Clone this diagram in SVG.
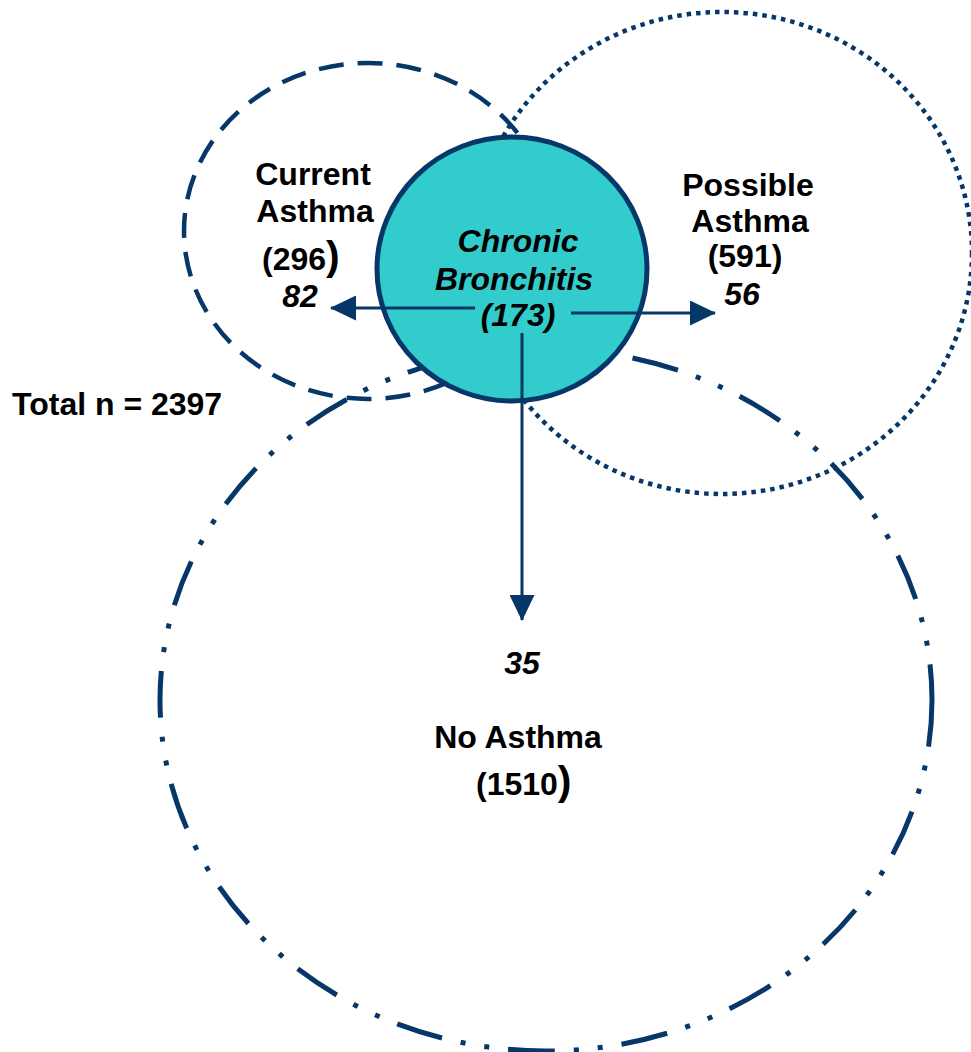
<svg xmlns="http://www.w3.org/2000/svg" width="971" height="1052" viewBox="0 0 971 1052">
<style>
.ring{fill:none;stroke:#063768;}
.lbl{font-family:"Liberation Sans",Arial,Helvetica,sans-serif;font-weight:bold;font-size:32px;fill:#000;}
.it{font-style:italic;}
.conn{stroke:#063768;stroke-width:3;fill:none;}
</style>
<defs>
<marker id="ah" markerWidth="26" markerHeight="25" refX="25" refY="12.5" orient="auto" markerUnits="userSpaceOnUse">
<path d="M0,0 L26,12.5 L0,25 Z" fill="#063768"/>
</marker>
</defs>
<rect width="971" height="1052" fill="#fff"/>
<g id="no-asthma">
<ellipse class="ring" cx="546" cy="700" rx="386" ry="351" stroke-width="5" stroke-dasharray="47 19 5 19 5 19"/>
<text class="lbl" x="518" y="748" text-anchor="middle">No Asthma</text>
<text class="lbl" x="476" y="795">(1510<tspan font-size="41">)</tspan></text>
</g>
<g id="possible-asthma">
<ellipse class="ring" cx="722" cy="253" rx="250" ry="241" stroke-width="4.5" stroke-dasharray="4.5 5"/>
<text class="lbl" x="748" y="196" text-anchor="middle">Possible</text>
<text class="lbl" x="750" y="232" text-anchor="middle">Asthma</text>
<text class="lbl" x="745" y="267" text-anchor="middle">(591)</text>
</g>
<g id="current-asthma">
<ellipse class="ring" cx="368" cy="231" rx="184" ry="168" stroke-width="4.5" stroke-dasharray="25 14"/>
<text class="lbl" x="313" y="185" text-anchor="middle">Current</text>
<text class="lbl" x="315" y="222" text-anchor="middle">Asthma</text>
<text class="lbl" x="262" y="270">(296<tspan font-size="41">)</tspan></text>
</g>
<g id="chronic-bronchitis">
<ellipse cx="512" cy="269" rx="135" ry="132" fill="#33CCCC" stroke="#063768" stroke-width="5"/>
<text class="lbl it" x="518" y="252" text-anchor="middle">Chronic</text>
<text class="lbl it" x="514" y="290" text-anchor="middle">Bronchitis</text>
<text class="lbl it" x="518" y="326" text-anchor="middle">(173)</text>
</g>
<g id="connectors">
<line class="conn" x1="475" y1="308" x2="331" y2="308" marker-end="url(#ah)"/>
<line class="conn" x1="571" y1="313" x2="715" y2="313" marker-end="url(#ah)"/>
<line class="conn" x1="522" y1="333" x2="522" y2="620" marker-end="url(#ah)"/>
</g>
<g id="counts">
<text class="lbl it" x="300" y="307" text-anchor="middle">82</text>
<text class="lbl it" x="742" y="305" text-anchor="middle">56</text>
<text class="lbl it" x="522" y="674" text-anchor="middle">35</text>
</g>
<g id="total">
<text class="lbl" x="12" y="415">Total n = 2397</text>
</g>
</svg>
